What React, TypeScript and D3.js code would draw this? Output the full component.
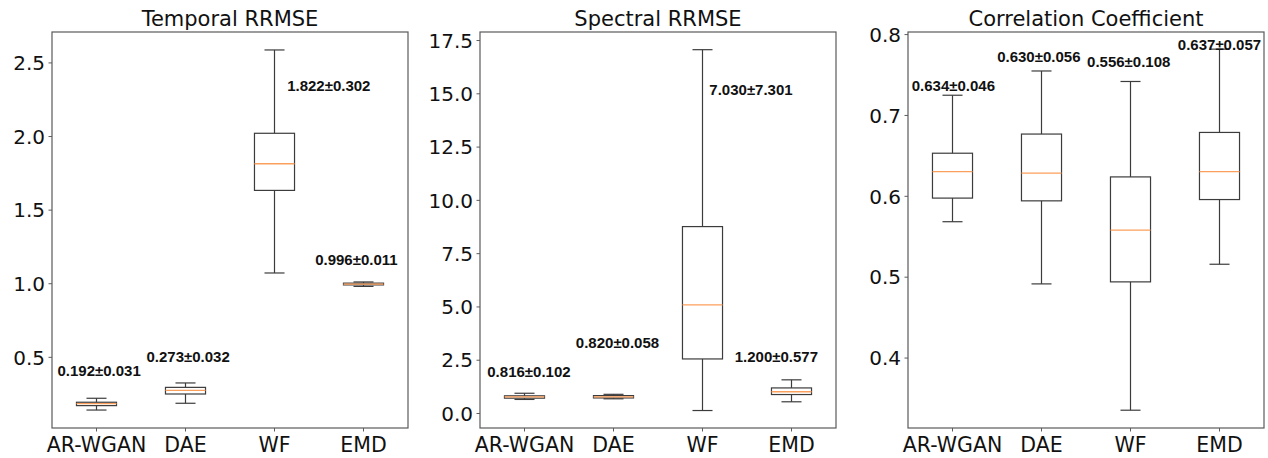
import React from "react";
import * as d3 from "d3";

const categories = ["AR-WGAN", "DAE", "WF", "EMD"];

// Temporal RRMSE box statistics
const temporalLow = [0.142, 0.188, 1.073, 0.982];
const temporalQ1 = [0.172, 0.251, 1.634, 0.992];
const temporalMedian = [0.185, 0.276, 1.815, 0.998];
const temporalQ3 = [0.195, 0.296, 2.022, 1.004];
const temporalHigh = [0.222, 0.326, 2.588, 1.012];
const temporalLabels = ["0.192±0.031", "0.273±0.032", "1.822±0.302", "0.996±0.011"];
const temporalLabelY = [0.41, 0.507, 2.347, 1.162];
const temporalLabelDx = [0.03, 0.03, 0.61, -0.08];
const temporalTicks = [0.5, 1.0, 1.5, 2.0, 2.5];

// Spectral RRMSE box statistics
const spectralLow = [0.66, 0.69, 0.14, 0.55];
const spectralQ1 = [0.72, 0.73, 2.56, 0.89];
const spectralMedian = [0.78, 0.78, 5.1, 1.02];
const spectralQ3 = [0.83, 0.84, 8.77, 1.2];
const spectralHigh = [0.95, 0.9, 17.07, 1.58];
const spectralLabels = ["0.816±0.102", "0.820±0.058", "7.030±7.301", "1.200±0.577"];
const spectralLabelY = [1.98, 3.31, 15.19, 2.65];
const spectralLabelDx = [0.05, 0.045, 0.545, -0.17];
const spectralTicks = [0.0, 2.5, 5.0, 7.5, 10.0, 12.5, 15.0, 17.5];

// Correlation coefficient box statistics
const corrLow = [0.5686, 0.4917, 0.3355, 0.516];
const corrQ1 = [0.5978, 0.5944, 0.4942, 0.596];
const corrMedian = [0.6306, 0.6286, 0.5583, 0.6306];
const corrQ3 = [0.6533, 0.677, 0.624, 0.679];
const corrHigh = [0.725, 0.755, 0.742, 0.782];
const corrLabels = ["0.634±0.046", "0.630±0.056", "0.556±0.108", "0.637±0.057"];
const corrLabelY = [0.7375, 0.7732, 0.767, 0.7877];
const corrLabelDx = [0.01, -0.03, -0.02, 0.0];
const corrTicks = [0.4, 0.5, 0.6, 0.7, 0.8];

const panels = [
  {
    title: "Temporal RRMSE",
    domain: [0.02, 2.71],
    ticks: temporalTicks,
    low: temporalLow, q1: temporalQ1, med: temporalMedian, q3: temporalQ3, high: temporalHigh,
    labels: temporalLabels, labelY: temporalLabelY, labelDx: temporalLabelDx,
  },
  {
    title: "Spectral RRMSE",
    domain: [-0.68, 17.9],
    ticks: spectralTicks,
    low: spectralLow, q1: spectralQ1, med: spectralMedian, q3: spectralQ3, high: spectralHigh,
    labels: spectralLabels, labelY: spectralLabelY, labelDx: spectralLabelDx,
  },
  {
    title: "Correlation Coefficient",
    domain: [0.3135, 0.8032],
    ticks: corrTicks,
    low: corrLow, q1: corrQ1, med: corrMedian, q3: corrQ3, high: corrHigh,
    labels: corrLabels, labelY: corrLabelY, labelDx: corrLabelDx,
  },
];

const W = 1268;
const H = 458;
const panelLefts = [52, 480, 908];
const panelW = 356;
const top = 32;
const bottom = 428;
const lineColor = "#3c3c3c";
const frameColor = "#5a5a5a";
const medianColor = "#fb9f5c";
const font = "'DejaVu Sans', sans-serif";

function Panel({ p, left }: { p: any; left: number }) {
  const x = d3.scaleLinear().domain([0.5, 4.5]).range([left, left + panelW]);
  const y = d3.scaleLinear().domain(p.domain).range([bottom, top]);
  const boxHalf = 0.225;
  const capHalf = 0.1125;
  const fmt = d3.format(".1f");
  return (
    <g>
      <text x={left + panelW / 2} y={26} textAnchor="middle" fontFamily={font} fontSize={21} fill="#111">
        {p.title}
      </text>
      {p.ticks.map((t: number) => (
        <g key={t}>
          <line x1={left - 3.5} x2={left} y1={y(t)} y2={y(t)} stroke="#333" strokeWidth={0.8} />
          <text x={left - 7} y={y(t)} dy="0.36em" textAnchor="end" fontFamily={font} fontSize={20} fill="#111">
            {fmt(t)}
          </text>
        </g>
      ))}
      {categories.map((c, i) => {
        const cx = x(i + 1);
        return (
          <g key={c}>
            <line x1={cx} x2={cx} y1={bottom} y2={bottom + 3.5} stroke="#333" strokeWidth={0.8} />
            <text x={cx} y={451.5} textAnchor="middle" fontFamily={font} fontSize={20.5} fill="#111">
              {c}
            </text>
            <line x1={cx} x2={cx} y1={y(p.high[i])} y2={y(p.q3[i])} stroke={lineColor} strokeWidth={1.2} />
            <line x1={cx} x2={cx} y1={y(p.q1[i])} y2={y(p.low[i])} stroke={lineColor} strokeWidth={1.2} />
            <line x1={x(i + 1 - capHalf)} x2={x(i + 1 + capHalf)} y1={y(p.high[i])} y2={y(p.high[i])} stroke={lineColor} strokeWidth={1.2} />
            <line x1={x(i + 1 - capHalf)} x2={x(i + 1 + capHalf)} y1={y(p.low[i])} y2={y(p.low[i])} stroke={lineColor} strokeWidth={1.2} />
            <rect
              x={x(i + 1 - boxHalf)}
              y={y(p.q3[i])}
              width={x(i + 1 + boxHalf) - x(i + 1 - boxHalf)}
              height={Math.max(0.5, y(p.q1[i]) - y(p.q3[i]))}
              fill="none"
              stroke={lineColor}
              strokeWidth={1.2}
            />
            <line x1={x(i + 1 - boxHalf)} x2={x(i + 1 + boxHalf)} y1={y(p.med[i])} y2={y(p.med[i])} stroke={medianColor} strokeWidth={1.3} />
            <text
              x={x(i + 1 + p.labelDx[i])}
              y={y(p.labelY[i])}
              dy="0.36em"
              textAnchor="middle"
              fontFamily="'Liberation Sans', Arial, sans-serif"
              fontWeight="bold"
              fontSize={15}
              fill="#111"
            >
              {p.labels[i]}
            </text>
          </g>
        );
      })}
      <rect x={left} y={top} width={panelW} height={bottom - top} fill="none" stroke={frameColor} strokeWidth={1.2} />
    </g>
  );
}

export default function App() {
  return (
    <svg width={W} height={H} style={{ position: "absolute", left: 0, top: 0, background: "#fff" }}>
      <rect x={0} y={0} width={W} height={H} fill="#fff" />
      {panels.map((p, k) => (
        <Panel key={p.title} p={p} left={panelLefts[k]} />
      ))}
    </svg>
  );
}
